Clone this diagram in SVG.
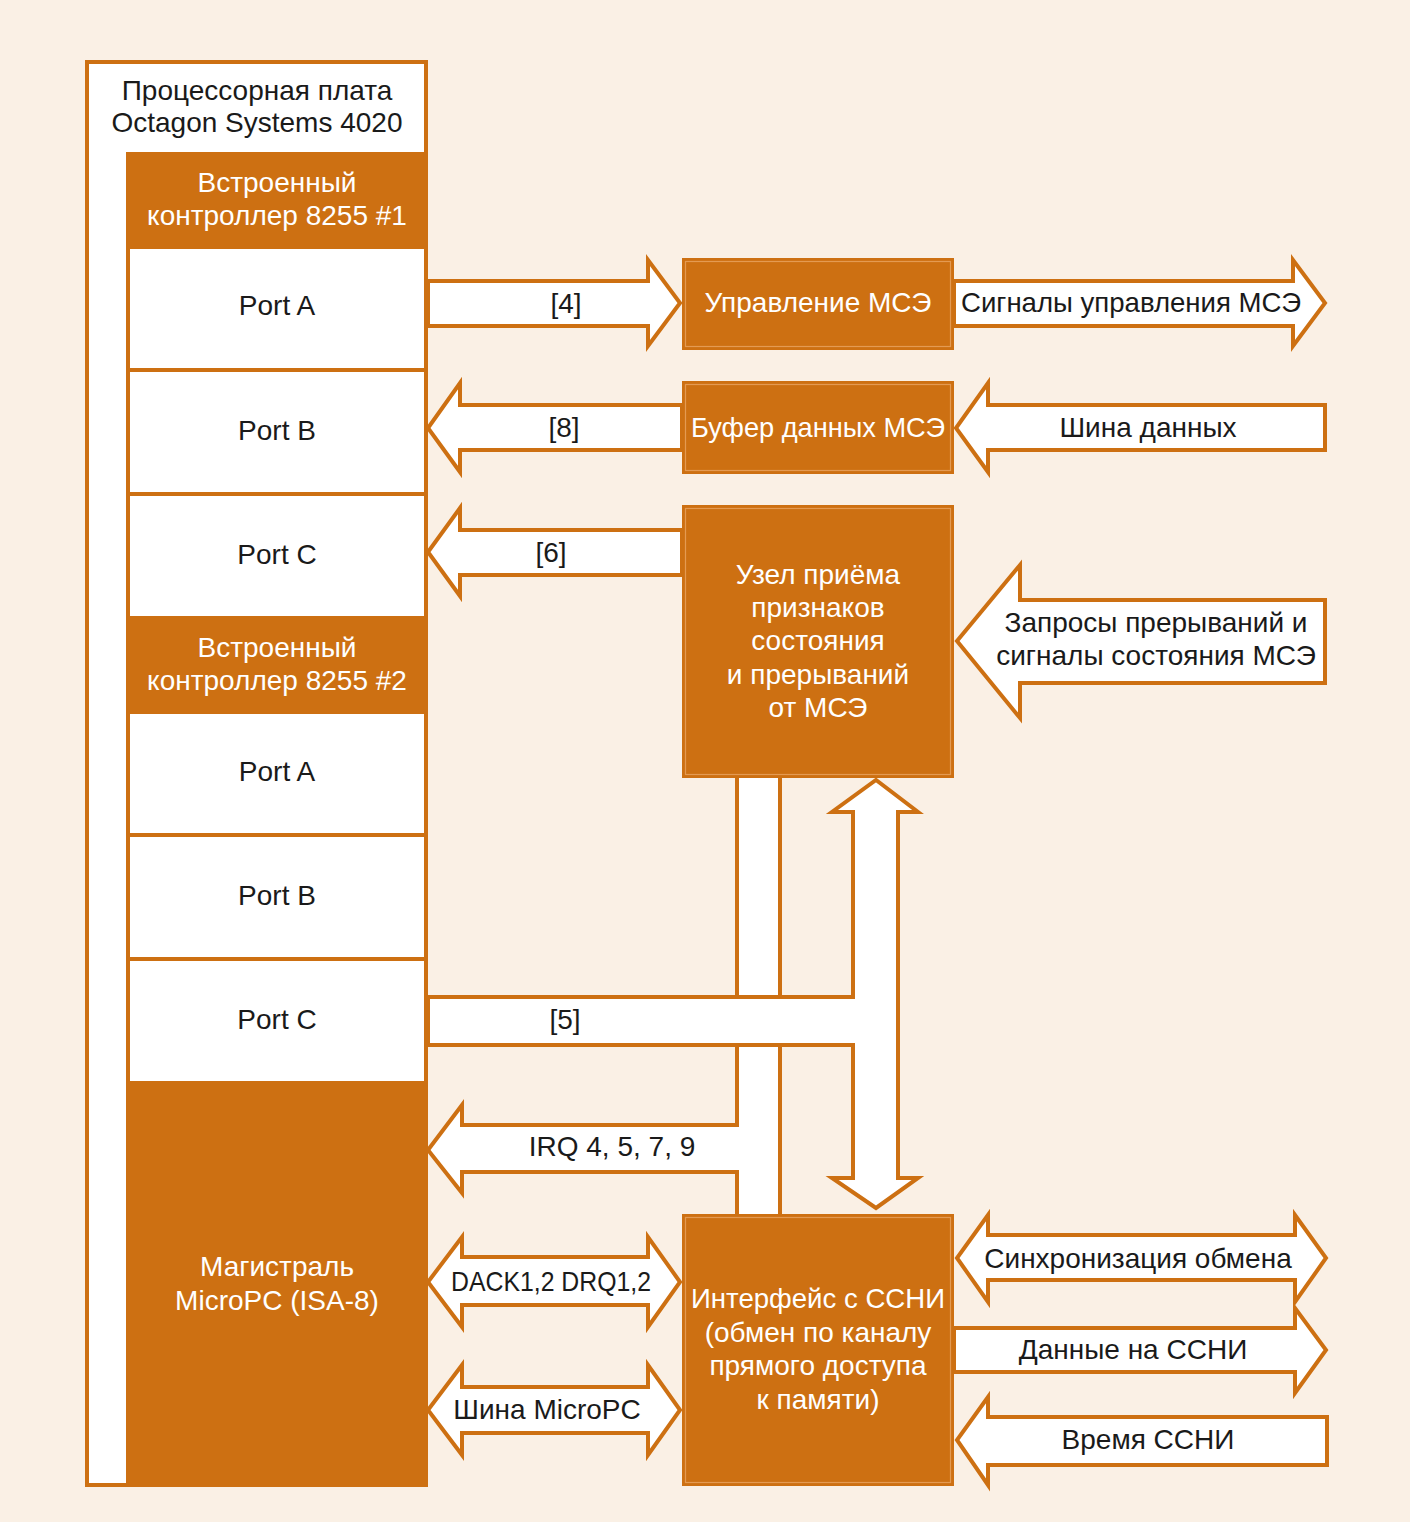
<svg xmlns="http://www.w3.org/2000/svg" width="1410" height="1522" viewBox="0 0 1410 1522">
<style>
.bg{fill:#FAF0E5}
.or{fill:#CD7012}
.box{fill:#CD7012}
.inner{fill:none;stroke:#E49A52;stroke-width:1.2}
.cell{fill:#FFFFFF}
.frame{fill:#FFFFFF;stroke:#CD7012;stroke-width:4}
.arr{fill:#FFFFFF;stroke:#CD7012;stroke-width:4;stroke-linejoin:miter}
text{font-family:"Liberation Sans",Arial,sans-serif;font-size:28px;text-anchor:middle}
.d{fill:#1A1A1A}
.w{fill:#FFFFFF}
</style>
<rect class="bg" x="0" y="0" width="1410" height="1522"/>

<g id="connectors">
  <polygon class="arr" points="428,281 648,281 648,260 680,303 648,346 648,326 428,326"/>
  <text class="d" x="566" y="313">[4]</text>
  <polygon class="arr" points="682,405 460,405 460,383 428,428 460,472 460,450 682,450"/>
  <text class="d" x="564" y="437">[8]</text>
  <polygon class="arr" points="682,530 460,530 460,508 428,552 460,596 460,575 682,575"/>
  <text class="d" x="551" y="562">[6]</text>

  <polygon class="arr" points="954,281 1293,281 1293,260 1325,303 1293,346 1293,326 954,326"/>
  <text class="d" x="1131" y="312" textLength="340" lengthAdjust="spacingAndGlyphs">Сигналы управления МСЭ</text>
  <polygon class="arr" points="1325,405 988,405 988,383 956,428 988,472 988,450 1325,450"/>
  <text class="d" x="1148" y="437">Шина данных</text>
  <polygon class="arr" points="1325,600 1020,600 1020,565 957,641 1020,718 1020,683 1325,683"/>
  <text class="d" x="1156" y="632">Запросы прерываний и</text>
  <text class="d" x="1156" y="665">сигналы состояния МСЭ</text>

  <rect class="arr" x="737" y="776" width="43" height="223"/>
  <polygon class="arr" points="780,1045 780,1216 737,1216 737,1172 462,1172 462,1193 428,1150 462,1105 462,1125 737,1125 737,1045"/>
  <text class="d" x="612" y="1156">IRQ 4, 5, 7, 9</text>
  <polygon class="arr" points="428,997 853,997 853,812 832,812 876,780 918,812 898,812 898,1178 918,1178 876,1208 832,1178 853,1178 853,1045 428,1045"/>
  <text class="d" x="565" y="1029">[5]</text>

  <polygon class="arr" points="462,1257 648,1257 648,1237 680,1282 648,1327 648,1305 462,1305 462,1327 428,1282 462,1237"/>
  <text class="d" x="551" y="1291" textLength="200" lengthAdjust="spacingAndGlyphs">DACK1,2 DRQ1,2</text>
  <polygon class="arr" points="462,1387 648,1387 648,1365 680,1410 648,1455 648,1433 462,1433 462,1455 428,1410 462,1365"/>
  <text class="d" x="547" y="1419">Шина MicroPC</text>

  <polygon class="arr" points="988,1235 1295,1235 1295,1215 1326,1258 1295,1302 1295,1280 988,1280 988,1302 957,1258 988,1215"/>
  <text class="d" x="1138" y="1268">Синхронизация обмена</text>
  <polygon class="arr" points="954,1328 1295,1328 1295,1308 1326,1350 1295,1393 1295,1372 954,1372"/>
  <text class="d" x="1133" y="1359">Данные на ССНИ</text>
  <polygon class="arr" points="1327,1417 988,1417 988,1397 957,1440 988,1485 988,1465 1327,1465"/>
  <text class="d" x="1148" y="1449">Время ССНИ</text>
</g>

<g id="board">
  <rect class="frame" x="87" y="62" width="339" height="1423"/>
  <text class="d" x="257" y="100">Процессорная плата</text>
  <text class="d" x="257" y="132">Octagon Systems 4020</text>
  <rect class="or" x="126" y="152" width="302" height="1335"/>
</g>
<g id="ctrl1">
  <text class="w" x="277" y="192">Встроенный</text>
  <text class="w" x="277" y="225">контроллер 8255 #1</text>
</g>
<g id="portA1"><rect class="cell" x="130" y="249" width="294" height="119"/><text class="d" x="277" y="315">Port A</text></g>
<g id="portB1"><rect class="cell" x="130" y="372" width="294" height="120"/><text class="d" x="277" y="440">Port B</text></g>
<g id="portC1"><rect class="cell" x="130" y="496" width="294" height="120"/><text class="d" x="277" y="564">Port C</text></g>
<g id="ctrl2">
  <text class="w" x="277" y="657">Встроенный</text>
  <text class="w" x="277" y="690">контроллер 8255 #2</text>
</g>
<g id="portA2"><rect class="cell" x="130" y="714" width="294" height="119"/><text class="d" x="277" y="781">Port A</text></g>
<g id="portB2"><rect class="cell" x="130" y="837" width="294" height="120"/><text class="d" x="277" y="905">Port B</text></g>
<g id="portC2"><rect class="cell" x="130" y="961" width="294" height="120"/><text class="d" x="277" y="1029">Port C</text></g>
<g id="bus">
  <text class="w" x="277" y="1276">Магистраль</text>
  <text class="w" x="277" y="1310">MicroPC (ISA-8)</text>
</g>

<g id="mse-ctrl">
  <rect class="box" x="682" y="258" width="272" height="92"/>
  <rect class="inner" x="685.5" y="261.5" width="265" height="85"/>
  <text class="w" x="818" y="312">Управление МСЭ</text>
</g>
<g id="mse-buf">
  <rect class="box" x="682" y="381" width="272" height="93"/>
  <rect class="inner" x="685.5" y="384.5" width="265" height="86"/>
  <text class="w" x="818" y="437" textLength="254" lengthAdjust="spacingAndGlyphs">Буфер данных МСЭ</text>
</g>
<g id="status-node">
  <rect class="box" x="682" y="505" width="272" height="273"/>
  <rect class="inner" x="685.5" y="508.5" width="265" height="266"/>
  <text class="w" x="818" y="584">Узел приёма</text>
  <text class="w" x="818" y="617">признаков</text>
  <text class="w" x="818" y="650">состояния</text>
  <text class="w" x="818" y="684">и прерываний</text>
  <text class="w" x="818" y="717">от МСЭ</text>
</g>
<g id="interface">
  <rect class="box" x="682" y="1214" width="272" height="272"/>
  <rect class="inner" x="685.5" y="1217.5" width="265" height="265"/>
  <text class="w" x="818" y="1308" textLength="254" lengthAdjust="spacingAndGlyphs">Интерфейс с ССНИ</text>
  <text class="w" x="818" y="1342">(обмен по каналу</text>
  <text class="w" x="818" y="1375">прямого доступа</text>
  <text class="w" x="818" y="1409">к памяти)</text>
</g>
</svg>
